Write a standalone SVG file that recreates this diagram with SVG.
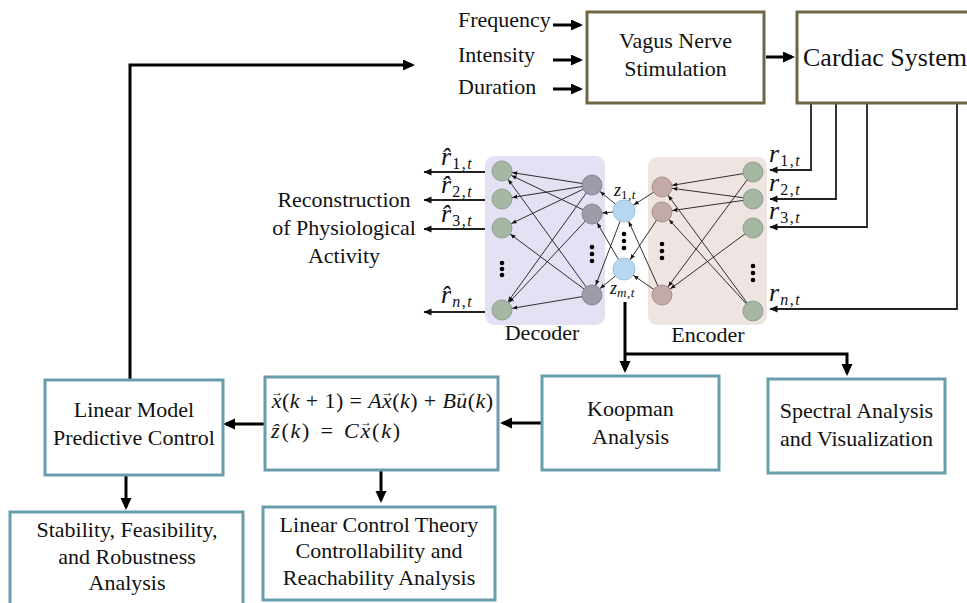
<svg xmlns="http://www.w3.org/2000/svg" width="967" height="603" viewBox="0 0 967 603" font-family="'Liberation Serif', serif">
<style>
text{font-family:'Liberation Serif','Times New Roman',serif;fill:#111;}
.t{font-size:22px;}
.c{text-anchor:middle;}
.big{font-size:26px;}
.ob{fill:#fff;stroke:#6e6744;stroke-width:3;}
.tb{fill:#fff;stroke:#6a9dab;stroke-width:3;}
.thick{fill:none;stroke:#000;stroke-width:3;marker-end:url(#arr);}
.thin{fill:none;stroke:#222;stroke-width:1.8;marker-end:url(#sm);}
.e{stroke:#1a1a1a;stroke-width:0.9;marker-end:url(#nn);}
.ez{stroke:#1a1a1a;stroke-width:0.9;marker-end:url(#nnz);}
.og{fill:#a6b8a3;stroke:#8ea08b;stroke-width:1;}
.dg{fill:#9e9ca8;stroke:#88869a;stroke-width:1;}
.lb{fill:#b7d7f0;stroke:#9cc3e3;stroke-width:1;}
.eh{fill:#c3a9a7;stroke:#a98f8d;stroke-width:1;}
.dot{fill:#000;}
.mi{font-size:26px;font-style:italic;}
.mz{font-size:18px;font-style:italic;}
.sb{font-size:16px;font-style:normal;letter-spacing:1.5px;}
.sbz{font-size:13px;font-style:normal;letter-spacing:0.5px;}
.it{font-style:italic;}
.va{font-size:12px;font-style:normal;letter-spacing:0;}
.eq1{font-size:22px;letter-spacing:0.4px;}
.eq2{font-size:22px;letter-spacing:1.8px;word-spacing:2px;}
</style>
<defs>
<marker id="arr" markerUnits="userSpaceOnUse" markerWidth="14" markerHeight="12" refX="9" refY="5.5" orient="auto"><path d="M0,0 L12,5.5 L0,11 z" fill="#000"/></marker>
<marker id="sm" markerUnits="userSpaceOnUse" markerWidth="10" markerHeight="8" refX="7.5" refY="3.5" orient="auto"><path d="M0,0 L8,3.5 L0,7 z" fill="#111"/></marker>
<marker id="nn" markerUnits="userSpaceOnUse" markerWidth="20" markerHeight="6" refX="15.5" refY="3" orient="auto"><path d="M0,0.9 L5,3 L0,5.1 z" fill="#111"/></marker>
<marker id="nnz" markerUnits="userSpaceOnUse" markerWidth="20" markerHeight="6" refX="16.5" refY="3" orient="auto"><path d="M0,0.9 L5,3 L0,5.1 z" fill="#111"/></marker>
</defs>

<g id="decoder">
<rect x="485" y="156" width="120" height="169" rx="9" fill="#e3e1f3"/>
<text class="t c" x="542" y="340">Decoder</text>
</g>
<g id="encoder">
<rect x="648" y="157" width="119" height="168" rx="9" fill="#eee5e2"/>
<text class="t c" x="708" y="342">Encoder</text>
</g>

<g id="connectors">
<path class="thick" d="M553,25 H580"/>
<path class="thick" d="M553,60 H580"/>
<path class="thick" d="M553,89 H580"/>
<path class="thick" d="M766,57 H792"/>
<path class="thin" d="M811,104 V170 H770"/>
<path class="thin" d="M836,104 V199 H770"/>
<path class="thin" d="M867,104 V227 H770"/>
<path class="thin" d="M957,104 V309 H770"/>
<path class="thin" d="M485,172 H424"/>
<path class="thin" d="M485,200 H424"/>
<path class="thin" d="M485,229 H424"/>
<path class="thin" d="M485,312 H424"/>
<line class="e" x1="753" y1="172" x2="662" y2="187"/>
<line class="e" x1="753" y1="199" x2="662" y2="187"/>
<line class="e" x1="753" y1="199" x2="662" y2="212"/>
<line class="e" x1="753" y1="172" x2="662" y2="295"/>
<line class="e" x1="753" y1="228" x2="662" y2="295"/>
<line class="e" x1="753" y1="311" x2="662" y2="187"/>
<line class="e" x1="753" y1="311" x2="662" y2="212"/>
<line class="ez" x1="662" y1="187" x2="624" y2="211"/>
<line class="ez" x1="662" y1="212" x2="624" y2="269"/>
<line class="ez" x1="662" y1="295" x2="624" y2="211"/>
<line class="ez" x1="662" y1="295" x2="624" y2="269"/>
<line class="e" x1="624" y1="211" x2="592" y2="185"/>
<line class="e" x1="624" y1="211" x2="592" y2="214"/>
<line class="e" x1="624" y1="211" x2="592" y2="295"/>
<line class="e" x1="624" y1="269" x2="592" y2="214"/>
<line class="e" x1="624" y1="269" x2="592" y2="295"/>
<line class="e" x1="592" y1="185" x2="502" y2="171"/>
<line class="e" x1="592" y1="185" x2="502" y2="199"/>
<line class="e" x1="592" y1="185" x2="502" y2="228"/>
<line class="e" x1="592" y1="185" x2="502" y2="310"/>
<line class="e" x1="592" y1="214" x2="502" y2="171"/>
<line class="e" x1="592" y1="214" x2="502" y2="310"/>
<line class="e" x1="592" y1="295" x2="502" y2="171"/>
<line class="e" x1="592" y1="295" x2="502" y2="228"/>
<line class="e" x1="592" y1="295" x2="502" y2="310"/>
<path class="thick" d="M625,302 V370"/>
<path class="thick" d="M625,354 H847 V373"/>
<path class="thick" d="M542,423 H503"/>
<path class="thick" d="M265,424 H226"/>
<path class="thick" d="M130,380 V65 H412"/>
<path class="thick" d="M126,476 V507"/>
<path class="thick" d="M381,471 V500"/>
</g>

<g id="outputs">
<circle class="og" cx="502" cy="171" r="10"/>
<circle class="og" cx="502" cy="199" r="10"/>
<circle class="og" cx="502" cy="228" r="10"/>
<circle class="og" cx="502" cy="310" r="10"/>
<circle class="dot" cx="502" cy="263" r="2.3"/><circle class="dot" cx="502" cy="269" r="2.3"/><circle class="dot" cx="502" cy="275" r="2.3"/>
</g>
<g id="decoder-hidden">
<circle class="dg" cx="592" cy="185" r="10"/>
<circle class="dg" cx="592" cy="214" r="10"/>
<circle class="dg" cx="592" cy="295" r="10"/>
<circle class="dot" cx="592" cy="247" r="2.3"/><circle class="dot" cx="592" cy="254" r="2.3"/><circle class="dot" cx="592" cy="261" r="2.3"/>
</g>
<g id="latent">
<circle class="lb" cx="624" cy="211" r="11"/>
<circle class="lb" cx="624" cy="269" r="11"/>
<circle class="dot" cx="624" cy="234" r="2.3"/><circle class="dot" cx="624" cy="241" r="2.3"/><circle class="dot" cx="624" cy="248" r="2.3"/>
<text class="mz" x="614" y="196">z<tspan class="sbz" dy="3">1,<tspan class="it">t</tspan></tspan></text>
<text class="mz" x="610" y="294">z<tspan class="sbz" dy="3"><tspan class="it">m</tspan>,<tspan class="it">t</tspan></tspan></text>
</g>
<g id="encoder-hidden">
<circle class="eh" cx="662" cy="187" r="10"/>
<circle class="eh" cx="662" cy="212" r="10"/>
<circle class="eh" cx="662" cy="295" r="10"/>
<circle class="dot" cx="662" cy="244" r="2.3"/><circle class="dot" cx="662" cy="251" r="2.3"/><circle class="dot" cx="662" cy="258" r="2.3"/>
</g>
<g id="inputs">
<circle class="og" cx="753" cy="172" r="10"/>
<circle class="og" cx="753" cy="199" r="10"/>
<circle class="og" cx="753" cy="228" r="10"/>
<circle class="og" cx="753" cy="311" r="10"/>
<circle class="dot" cx="753" cy="266" r="2.3"/><circle class="dot" cx="753" cy="273" r="2.3"/><circle class="dot" cx="753" cy="280" r="2.3"/>
</g>

<g id="r-hat-labels">
<text class="mi" x="441" y="165">r&#x302;<tspan class="sb" dx="1" dy="4">1,<tspan class="it">t</tspan></tspan></text>
<text class="mi" x="441" y="193">r&#x302;<tspan class="sb" dx="1" dy="4">2,<tspan class="it">t</tspan></tspan></text>
<text class="mi" x="441" y="222">r&#x302;<tspan class="sb" dx="1" dy="4">3,<tspan class="it">t</tspan></tspan></text>
<text class="mi" x="441" y="303">r&#x302;<tspan class="sb" dx="1" dy="4"><tspan class="it">n</tspan>,<tspan class="it">t</tspan></tspan></text>
</g>
<g id="r-labels">
<text class="mi" x="769" y="162">r<tspan class="sb" dx="1" dy="4">1,<tspan class="it">t</tspan></tspan></text>
<text class="mi" x="769" y="191">r<tspan class="sb" dx="1" dy="4">2,<tspan class="it">t</tspan></tspan></text>
<text class="mi" x="769" y="219">r<tspan class="sb" dx="1" dy="4">3,<tspan class="it">t</tspan></tspan></text>
<text class="mi" x="769" y="301">r<tspan class="sb" dx="1" dy="4"><tspan class="it">n</tspan>,<tspan class="it">t</tspan></tspan></text>
</g>

<g id="stim-params">
<text class="t" x="458" y="27">Frequency</text>
<text class="t" x="458" y="62">Intensity</text>
<text class="t" x="458" y="94">Duration</text>
</g>

<g id="vns">
<rect class="ob" x="587" y="12" width="177" height="91"/>
<text class="t c" x="675.5" y="48">Vagus Nerve</text>
<text class="t c" x="675.5" y="76">Stimulation</text>
</g>
<g id="cardiac">
<rect class="ob" x="797" y="12" width="180" height="91"/>
<text class="big" x="803" y="66">Cardiac System</text>
</g>

<g id="reconstruction">
<text class="t c" x="344" y="207">Reconstruction</text>
<text class="t c" x="344" y="235">of Physiological</text>
<text class="t c" x="344" y="263">Activity</text>
</g>

<g id="koopman">
<rect class="tb" x="542" y="376" width="177" height="94"/>
<text class="t c" x="630.5" y="416">Koopman</text>
<text class="t c" x="630.5" y="444">Analysis</text>
</g>
<g id="spectral">
<rect class="tb" x="768" y="379" width="177" height="94"/>
<text class="t c" x="856.5" y="418">Spectral Analysis</text>
<text class="t c" x="856.5" y="446">and Visualization</text>
</g>
<g id="state-space">
<rect class="tb" x="265" y="377" width="233" height="93"/>
<text class="eq1" x="271" y="408"><tspan class="it">x</tspan><tspan class="va" dx="-11" dy="-12">→</tspan><tspan dx="-1" dy="12">(</tspan><tspan class="it">k</tspan> + 1) = <tspan class="it">Ax</tspan><tspan class="va" dx="-11" dy="-12">→</tspan><tspan dx="-1" dy="12">(</tspan><tspan class="it">k</tspan>) + <tspan class="it">Bu</tspan><tspan class="va" dx="-12" dy="-12">→</tspan><tspan dx="0" dy="12">(</tspan><tspan class="it">k</tspan>)</text>
<text class="eq2" x="271" y="438"><tspan class="it">&#x1E91;</tspan>(<tspan class="it">k</tspan>) = <tspan class="it">Cx</tspan><tspan class="va" dx="-12" dy="-12">→</tspan><tspan dx="0" dy="12">(</tspan><tspan class="it">k</tspan>)</text>
</g>
<g id="lmpc">
<rect class="tb" x="45" y="380" width="178" height="95"/>
<text class="t c" x="134" y="417">Linear Model</text>
<text class="t c" x="134" y="445">Predictive Control</text>
</g>
<g id="stability">
<rect class="tb" x="10" y="512" width="233" height="100"/>
<text class="t c" x="127" y="537">Stability, Feasibility,</text>
<text class="t c" x="127" y="564">and Robustness</text>
<text class="t c" x="127" y="590">Analysis</text>
</g>
<g id="linear-control">
<rect class="tb" x="263" y="507" width="232" height="93"/>
<text class="t c" x="379" y="532">Linear Control Theory</text>
<text class="t c" x="379" y="558">Controllability and</text>
<text class="t c" x="379" y="585">Reachability Analysis</text>
</g>
</svg>
